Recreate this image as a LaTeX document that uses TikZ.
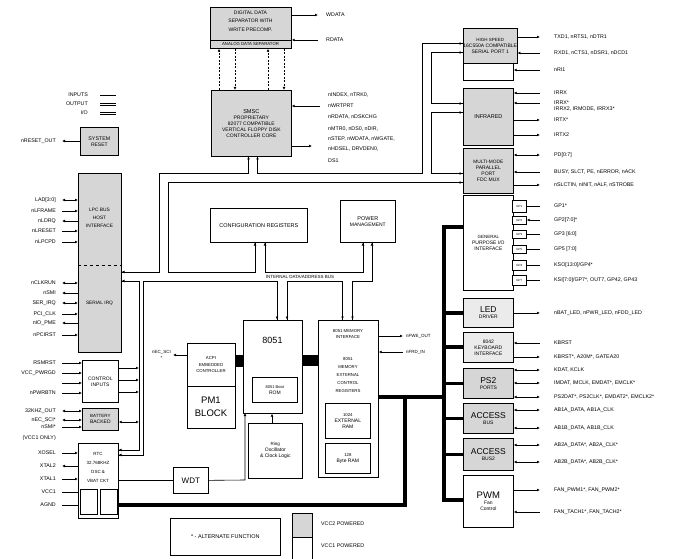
\documentclass[tikz,border=0pt]{standalone}
\usepackage{fontspec}
\setmainfont{Liberation Sans}
\usetikzlibrary{arrows.meta}
\newcommand\Bx[7][box]{\node[#1,minimum width={#5pt-#3pt},minimum height={#6pt-#4pt}] (#2) at (#3,#4) {#7};}
\newcommand\fz[2]{\fontsize{#1}{#2}\selectfont}
\newcommand\RL[5]{\node[lbl,anchor=west] (#1) at (553,#2) {#3}; \draw[#5] (#4.east |- #1) -- (#1.west);}
\newcommand\LL[5]{\node[lbl,anchor=east] (#1) at (57,#2) {#3}; \draw[#5] (#4.west |- #1) -- (#1.east);}
\begin{document}
\begin{tikzpicture}[x=1pt,y=-1pt,
  box/.style={draw,line width=0.7pt,anchor=north west,inner sep=0pt,align=center,fill=white,font=\fz{5}{6}},
  gbox/.style={box,fill=black!16},
  txt/.style={inner sep=0pt,align=center},
  lbl/.style={inner sep=1pt,font=\fz{5.3}{6}},
  ln/.style={line width=0.6pt},
  wall/.style={line width=0.7pt,line join=miter},
  tip/.style={-{Latex[length=3pt,width=2.8pt]}},
  arr/.style={ln,tip},
  outR/.style={ln,-{Latex[length=3pt,width=2.8pt]},shorten >=13pt},
  inR/.style={ln,{Latex[length=3pt,width=2.8pt]}-,shorten >=13pt},
  bothR/.style={ln,{Latex[length=3pt,width=2.8pt]}-{Latex[length=3pt,width=2.8pt]},shorten >=13pt},
  plainR/.style={ln,shorten >=13pt},
  outL/.style={ln,-{Latex[length=3pt,width=2.8pt]},shorten >=5pt},
  inL/.style={ln,{Latex[length=3pt,width=2.8pt]}-,shorten >=5pt},
  bothL/.style={ln,{Latex[length=3pt,width=2.8pt]}-{Latex[length=3pt,width=2.8pt]},shorten >=5pt},
  plainL/.style={ln,shorten >=5pt},
  thk/.style={line width=3.6pt,line join=miter},
]
\fill[white] (0,0) rectangle (686,559);
\useasboundingbox (0,0) rectangle (686,559);

% ---------- buses drawn as pairs of walls
\draw[wall] (121,272) -- (159.5,272) -- (159.5,173.5) -- (248.5,173.5) -- (248.5,156);
\draw[wall] (257.5,156) -- (257.5,173.5) -- (422.5,173.5) -- (422.5,43.5) -- (463,43.5);
\draw[wall] (463,52.5) -- (431.5,52.5) -- (431.5,103.5) -- (463,103.5);
\draw[wall] (463,112.5) -- (431.5,112.5) -- (431.5,173.5) -- (463,173.5);
\draw[wall] (463,182.5) -- (168.5,182.5) -- (168.5,272) -- (255,272) -- (255,242);
\draw[wall] (265,242) -- (265,272) -- (363,272) -- (363,242);
\draw[wall] (372,242) -- (372,281) -- (352.5,281) -- (352.5,320);
\draw[wall] (342.5,320) -- (342.5,281) -- (287,281) -- (287,320);
\draw[wall] (277,320) -- (277,281) -- (143.75,281) -- (143.75,455) -- (118,455);
\draw[wall] (118,450) -- (139.25,450) -- (139.25,281) -- (121,281);
\node[txt,font=\fz{4.5}{5}] (busl) at (300,276.5) {INTERNAL DATA/ADDRESS BUS};

% ---------- bus arrow tips
\draw[arr] (255,250) -- (255,242.5); \draw[arr] (265,250) -- (265,242.5);
\draw[arr] (363,250) -- (363,242.5); \draw[arr] (372,250) -- (372,242.5);
\draw[arr] (277,312) -- (277,319.5); \draw[arr] (287,312) -- (287,319.5);
\draw[arr] (342.5,312) -- (342.5,319.5); \draw[arr] (352.5,312) -- (352.5,319.5);
\draw[arr] (248.5,164) -- (248.5,156.5); \draw[arr] (257.5,164) -- (257.5,156.5);
\draw[arr] (455,173.5) -- (462.5,173.5); \draw[arr] (455,182.5) -- (462.5,182.5);
\draw[arr] (455,43.5) -- (462.5,43.5); \draw[arr] (455,52.5) -- (462.5,52.5);
\draw[arr] (455,103.5) -- (462.5,103.5); \draw[arr] (455,112.5) -- (462.5,112.5);
\draw[arr] (129,272) -- (121.5,272); \draw[arr] (129,281) -- (121.5,281);
\draw[arr] (126,450) -- (118.5,450); \draw[arr] (126,455) -- (118.5,455);

% ---------- top: FDC
\Bx[gbox]{sep}{210}{7}{291}{48}{}
\node[txt,font=\fz{5}{8.5}] (septx) at (250.5,21) {DIGITAL DATA\\SEPARATOR WITH\\WRITE PRECOMP.};
\draw[ln] (sep.west |- 0,40) -- (sep.east |- 0,40);
\node[txt,font=\fz{4.3}{5}] (sepb) at (250.5,44) {ANALOG DATA SEPARATOR};
\Bx[gbox]{fdc}{211}{90}{291}{156}{\fz{5.6}{10.5}SMSC\\PROPRIETARY\\82077 COMPATIBLE\\VERTICAL FLOPPY DISK\\CONTROLLER CORE}
\draw[arr,dash pattern=on 2pt off 1.5pt] (fdc.north -| 219,0) -- (sep.south -| 219,0);
\draw[arr,dash pattern=on 2pt off 1.5pt] (sep.south -| 235,0) -- (fdc.north -| 235,0);
\draw[arr,dash pattern=on 2pt off 1.5pt] (fdc.north -| 268,0) -- (sep.south -| 268,0);
\draw[arr,dash pattern=on 2pt off 1.5pt] (sep.south -| 284,0) -- (fdc.north -| 284,0);
\node[lbl,anchor=west] (sw1) at (325,15) {WDATA};
\node[lbl,anchor=west] (sw2) at (325,40) {RDATA};
\draw[arr,shorten >=7pt] (sep.east |- sw1) -- (sw1.west);
\draw[ln,{Latex[length=3pt,width=2.8pt]}-,shorten >=7pt] (sep.east |- sw2) -- (sw2.west);
\node[lbl,anchor=west] (f1) at (327,95) {nINDEX, nTRK0,};
\node[lbl,anchor=west] (f2) at (327,106) {nWRTPRT};
\node[lbl,anchor=west] (f3) at (327,117) {nRDATA, nDSKCHG};
\node[lbl,anchor=west] (f4) at (327,129) {nMTR0, nDS0, nDIR,};
\node[lbl,anchor=west] (f5) at (327,139) {nSTEP, nWDATA, nWGATE,};
\node[lbl,anchor=west] (f6) at (327,149) {nHDSEL, DRVDEN0,};
\node[lbl,anchor=west] (f7) at (327,161) {DS1};
\draw[ln,{Latex[length=3pt,width=2.8pt]}-,shorten >=7pt] (fdc.east |- f2) -- (f2.west);
\draw[arr,shorten >=15pt] (fdc.east |- 0,146) -- (f6.west |- 0,146);

% ---------- top-left legend & reset
\node[lbl,anchor=east] (lg1) at (89,95) {INPUTS};
\node[lbl,anchor=east] (lg2) at (89,104) {OUTPUT};
\node[lbl,anchor=east] (lg3) at (89,113) {I/O};
\draw[ln] (100,95) -- (116,95);
\draw[ln] (100,103) -- (116,103); \draw[ln] (100,105.5) -- (116,105.5);
\draw[ln] (100,112) -- (116,112); \draw[ln] (100,114.5) -- (116,114.5);
\Bx[gbox]{rst}{80}{127}{118}{155}{\fz{5.3}{7.5}SYSTEM\\RESET}
\node[lbl,anchor=east] (rsto) at (57,141) {nRESET\_OUT};
\draw[outL] (rst.west |- rsto) -- (rsto.east);

% ---------- LPC box
\Bx[gbox]{lpc}{78}{173}{121}{352}{}
\draw[ln,dashed] (lpc.west |- 0,265) -- (lpc.east |- 0,265);
\node[txt,font=\fz{4.8}{8}] (lpct) at (99.5,218) {LPC BUS\\HOST\\INTERFACE};
\node[txt,font=\fz{4.8}{6}] (sirq) at (99.5,303) {SERIAL IRQ};
\LL{la1}{200}{LAD[3:0]}{lpc}{bothL}
\LL{la2}{211}{nLFRAME}{lpc}{inL}
\LL{la3}{221}{nLDRQ}{lpc}{outL}
\LL{la4}{231}{nLRESET}{lpc}{inL}
\LL{la5}{242}{nLPCPD}{lpc}{inL}
\LL{lb1}{283}{nCLKRUN}{lpc}{bothL}
\LL{lb2}{293}{nSMI}{lpc}{outL}
\LL{lb3}{303}{SER\_IRQ}{lpc}{bothL}
\LL{lb4}{314}{PCI\_CLK}{lpc}{inL}
\LL{lb5}{323}{nIO\_PME}{lpc}{outL}
\LL{lb6}{335}{nPCIRST}{lpc}{inL}

% ---------- bottom-left
\Bx{ctrl}{82}{360}{118}{402}{\fz{5}{8}CONTROL\\INPUTS}
\LL{ci1}{363}{RSMRST}{ctrl}{inL}
\LL{ci2}{373}{VCC\_PWRGD}{ctrl}{inL}
\coordinate (ci3) at (57,383);
\draw[inL] (ctrl.west |- ci3) -- (ci3);
\LL{ci4}{393}{nPWRBTN}{ctrl}{inL}
\Bx[gbox]{bat}{82}{408}{118}{430}{\fz{4.5}{6.5}BATTERY\\BACKED}
\LL{bt1}{411}{32KHZ\_OUT}{bat}{bothL}
\LL{bt2}{420}{nEC\_SCI*}{bat}{bothL}
\LL{bt3}{427}{nSMI*}{bat}{inL}
\node[lbl,anchor=east] (bt4) at (57,438) {(VCC1 ONLY)};
\Bx{rtc}{78}{443}{118}{518}{}
\node[txt,font=\fz{4.5}{9}] (rtct) at (98,467) {RTC\\32.768KHZ\\OSC \&\\VBAT CKT};
\Bx{rtca}{80}{489}{97}{514}{}
\Bx{rtcb}{100}{489}{117}{514}{}
\LL{x1}{453}{XOSEL}{rtc}{inL}
\LL{x2}{466}{XTAL2}{rtc}{outL}
\LL{x3}{479}{XTAL1}{rtc}{inL}
\LL{x4}{492}{VCC1}{rtc}{plainL}
\LL{x5}{505}{AGND}{rtc}{plainL}
% control inputs to bus
\coordinate (pc1) at (139,368);
\coordinate (pc2) at (139,380);
\coordinate (pc3) at (139,392);
\coordinate (pc4) at (139,422);
\draw[arr] (ctrl.east |- pc1) -- (pc1);
\draw[arr] (ctrl.east |- pc2) -- (pc2);
\draw[arr] (ctrl.east |- pc3) -- (pc3);
\draw[ln,{Latex[length=3pt,width=2.8pt]}-{Latex[length=3pt,width=2.8pt]}] (bat.east |- pc4) -- (pc4);

% ---------- center blocks
\Bx{cfg}{210}{208}{307}{242}{\fz{5.5}{6}CONFIGURATION REGISTERS}
\Bx{pm}{340}{200}{395}{242}{\fz{5.5}{8}POWER\\MANAGEMENT}
\Bx{acpi}{187}{343}{235}{428}{}
\draw[ln] (acpi.west |- 0,386) -- (acpi.east |- 0,386);
\node[txt,font=\fz{4.3}{6.5}] (acpit) at (211,365) {ACPI\\EMBEDDED\\CONTROLLER};
\node[txt,font=\fz{9.5}{13}] (pm1) at (211,407) {PM1\\BLOCK};
\node[lbl,align=center,anchor=east,font=\fz{4.5}{5.5}] (sci) at (172,355) {nEC\_SCI\\*};
\draw[arr,shorten >=1pt] (acpi.west |- 0,355) -- (sci.east |- 0,355);
\Bx{c8051}{243}{320}{302}{413}{}
\node[txt,font=\fz{9}{10}] (t8051) at (272.5,340) {8051};
\Bx{boot}{252}{377}{297}{402}{\fz{4}{6}8051 Boot\\ROM}
\Bx{clk}{248}{423}{302}{478}{\fz{4.5}{8}Ring\\Oscillator\\\& Clock Logic}
\Bx{mem}{318}{320}{378}{477}{}
\node[txt,font=\fz{4.3}{6}] (memt) at (348,334) {8051 MEMORY\\INTERFACE};
\node[txt,font=\fz{4.3}{8}] (memm) at (348,375) {8051\\MEMORY\\EXTERNAL\\CONTROL\\REGISTERS};
\Bx{mem1}{325}{403}{370}{438}{\fz{4.3}{8}1024\\EXTERNAL\\RAM}
\Bx{mem2}{325}{443}{370}{473}{\fz{4.3}{8}128\\Byte RAM}
\fill (235,355) rectangle (243,367);
\fill (302,355) rectangle (318,366);
\node[lbl,anchor=west,font=\fz{4.5}{5}] (mo1) at (405,336) {nFWE\_OUT};
\node[lbl,anchor=west,font=\fz{4.5}{5}] (mo2) at (405,352) {nFRD\_IN};
\draw[arr,shorten >=2pt] (mem.east |- mo1) -- (mo1.west);
\draw[ln,{Latex[length=3pt,width=2.8pt]}-,shorten >=2pt] (mem.east |- mo2) -- (mo2.west);
\Bx{wdt}{173}{467}{208}{493}{\fz{8}{9}WDT}
\coordinate (w1) at (245,480);
\coordinate (w2) at (245,413);
\draw[ln] (rtc.east |- wdt) -- (wdt.west);
\draw[ln,-{Latex[length=3pt,width=2.8pt]}] (wdt.east) -- (w1) -- (w2);
\draw[arr] (clk.north -| 272,0) -- (c8051.south -| 272,0);

% ---------- thick black bus
\coordinate (k0) at (444,227);
\coordinate (k1) at (444,500);
\coordinate (k2) at (405,505);
\coordinate (k3) at (405,397);
\coordinate (k4) at (444,397);

% ---------- right side boxes
\Bx[gbox]{ser}{463}{28}{513}{63}{\fz{4.5}{7}HIGH SPEED\\16C550A COMPATIBLE\\SERIAL PORT 1}
\Bx{ser2}{463}{63}{513}{80}{}
\Bx[gbox]{ir}{463}{88}{513}{145}{\fz{5.5}{7}INFRARED}
\Bx[gbox]{par}{463}{148}{513}{193}{\fz{4.8}{8.5}MULTI-MODE\\PARALLEL\\PORT\\FDC MUX}
\Bx{gpio}{463}{195}{513}{290}{\fz{4.5}{7}GENERAL\\PURPOSE I/O\\INTERFACE}
\Bx[box,font=\fz{3}{3}]{g1}{512}{200}{526}{212}{GP1}
\Bx[box,font=\fz{3}{3}]{g2}{512}{216}{526}{224}{GP2}
\Bx[box,font=\fz{3}{3}]{g3}{512}{230}{526}{238}{GP3}
\Bx[box,font=\fz{3}{3}]{g4}{512}{245}{526}{253}{GP5}
\Bx[box,font=\fz{3}{3}]{g5}{512}{260}{526}{270}{GP4}
\Bx[box,font=\fz{3}{3}]{g6}{512}{275}{526}{285}{GP7}
\Bx[gbox,fill=black!8]{led}{463}{298}{513}{327}{\fz{8.5}{11}LED\\DRIVER}
\Bx[gbox,fill=black!8]{kb}{463}{332}{513}{362}{\fz{5}{8.5}8042\\KEYBOARD\\INTERFACE}
\Bx[gbox]{ps2}{463}{368}{513}{398}{\fz{8.5}{11}PS2\\PORTS}
\Bx[gbox]{ab}{463}{403}{513}{433}{\fz{8.5}{11}ACCESS\\BUS}
\Bx[gbox]{ab2}{463}{438}{513}{470}{\fz{8.5}{11}ACCESS\\BUS2}
\Bx{pwm}{463}{475}{513}{527}{\fz{9.5}{14}PWM\\Fan\\Control}

\draw[thk] (mem.east |- k4) -- (k4);
\draw[thk] (gpio.west |- k0) -- (k0) -- (k1) -- (pwm.west |- k1);
\draw[thk] (rtc.east |- k2) -- (k2) -- (k3);
\draw[thk] (k0 |- led) -- (led.west);
\draw[thk] (k0 |- 0,347) -- (kb.west |- 0,347);
\draw[thk] (k0 |- ps2) -- (ps2.west);
\draw[thk] (k0 |- ab) -- (ab.west);
\draw[thk] (k0 |- ab2) -- (ab2.west);

\RL{s1}{37}{TXD1, nRTS1, nDTR1}{ser}{outR}
\RL{s2}{53}{RXD1, nCTS1, nDSR1, nDCD1}{ser}{inR}
\RL{s3}{70}{nRI1}{ser2}{inR}
\RL{i1}{93}{IRRX}{ir}{inR}
\RL{i2}{103}{IRRX*}{ir}{inR}
\node[lbl,anchor=west] (i2b) at (553,109) {IRRX2, IRMODE, IRRX3*};
\RL{i3}{120}{IRTX*}{ir}{outR}
\RL{i4}{135}{IRTX2}{ir}{outR}
\RL{p1}{155}{PD[0:7]}{par}{bothR}
\RL{p2}{172}{BUSY, SLCT, PE, nERROR, nACK}{par}{inR}
\RL{p3}{185}{nSLCTIN, nINIT, nALF, nSTROBE}{par}{outR}
\RL{gp1}{206}{GP1*}{g1}{plainR}
\RL{gp2}{220}{GP2[7:0]*}{g2}{inR}
\RL{gp3}{234}{GP3 [6:0]}{g3}{plainR}
\RL{gp4}{249}{GP5 [7:0]}{g4}{plainR}
\RL{gp5}{265}{KSO[13:0]/GP4*}{g5}{plainR}
\RL{gp6}{280}{KSI[7:0]/GP7*, OUT7, GP42, GP43}{g6}{plainR}
\RL{le1}{313}{nBAT\_LED, nPWR\_LED, nFDD\_LED}{led}{outR}
\RL{k1l}{343}{KBRST}{kb}{inR}
\RL{k2l}{357}{KBRST*, A20M*, GATEA20}{kb}{outR}
\RL{q1}{370}{KDAT, KCLK}{ps2}{bothR}
\RL{q2}{383}{IMDAT, IMCLK, EMDAT*, EMCLK*}{ps2}{bothR}
\RL{q3}{397}{PS2DAT*, PS2CLK*, EMDAT2*, EMCLK2*}{ps2}{bothR}
\RL{a1}{410}{AB1A\_DATA, AB1A\_CLK}{ab}{bothR}
\RL{a2}{428}{AB1B\_DATA, AB1B\_CLK}{ab}{bothR}
\RL{a3}{445}{AB2A\_DATA*, AB2A\_CLK*}{ab2}{bothR}
\RL{a4}{462}{AB2B\_DATA*, AB2B\_CLK*}{ab2}{bothR}
\RL{w1l}{490}{FAN\_PWM1*, FAN\_PWM2*}{pwm}{outR}
\RL{w2l}{512}{FAN\_TACH1*, FAN\_TACH2*}{pwm}{inR}

% ---------- bottom legend
\Bx{alt}{170}{518}{280}{555}{\fz{5.5}{6}* - ALTERNATE FUNCTION}
\Bx[gbox]{sw1}{292}{513}{312}{537}{}
\Bx{sw2}{292}{537}{312}{559}{}
\node[lbl,anchor=west] (v2) at (320,524) {VCC2 POWERED};
\node[lbl,anchor=west] (v1) at (320,546) {VCC1 POWERED};
\end{tikzpicture}
\end{document}
